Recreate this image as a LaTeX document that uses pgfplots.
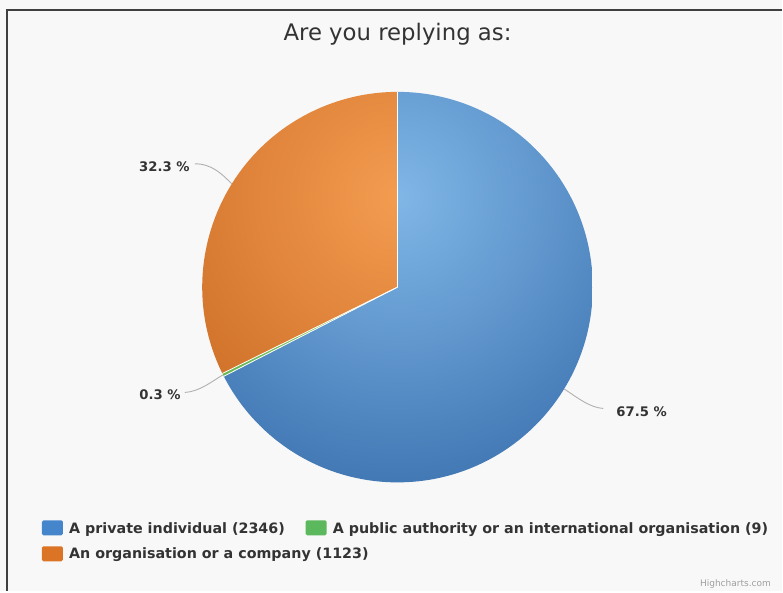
\documentclass[border=0pt]{standalone}
\usepackage{pgfplots}
\pgfplotsset{compat=1.18}
\usepackage{pgfplotstable}
\usepackage{fontspec}
\setmainfont{DejaVu Sans}

\definecolor{bg}{HTML}{F8F8F8}
\definecolor{frame}{HTML}{404040}
\definecolor{txt}{HTML}{333333}
\definecolor{bluein}{HTML}{80B7E7}
\definecolor{blueout}{HTML}{2E64A4}
\definecolor{orangein}{HTML}{F39C50}
\definecolor{orangeout}{HTML}{C05E18}
\definecolor{greenin}{HTML}{9AD67A}
\definecolor{greenout}{HTML}{4AA63C}
\definecolor{legblue}{HTML}{4585CB}
\definecolor{leggreen}{HTML}{5CB85C}
\definecolor{legorange}{HTML}{DC7426}
\definecolor{conn}{HTML}{B0B0B0}

% Data: responses per category
\pgfplotstableread{
id value
1 2346
2 9
3 1123
}\datatable
\pgfplotstablegetelem{0}{value}\of\datatable \let\va\pgfplotsretval
\pgfplotstablegetelem{1}{value}\of\datatable \let\vb\pgfplotsretval
\pgfplotstablegetelem{2}{value}\of\datatable \let\vc\pgfplotsretval
\pgfmathsetmacro\total{\va+\vb+\vc}
\pgfmathsetmacro\fa{\va/\total}
\pgfmathsetmacro\fb{\vb/\total}
\pgfmathsetmacro\aA{90-360*\fa}
\pgfmathsetmacro\aB{\aA-360*\fb}
\def\aC{-270}
\def\R{195.5pt}

\begin{document}
\begin{tikzpicture}
\begin{axis}[hide axis, scale only axis, width=783pt, height=592pt,
  xmin=0, xmax=783, ymin=0, ymax=592, clip=false]
\pgfplotsextra{
  \fill[bg] (axis cs:0,0) rectangle (axis cs:783,592);
  \draw[frame, line width=2pt] (axis cs:7,0) -- (axis cs:7,582) -- (axis cs:783,582);
  % blue slice
  \begin{scope}
    \clip (axis cs:398,304.5) -- ++(90:\R) arc[start angle=90, end angle=\aA, radius=\R] -- cycle;
    \shade[overlay, inner color=bluein, outer color=blueout] (axis cs:398,395) circle (380pt);
  \end{scope}
  % green slice
  \begin{scope}
    \clip (axis cs:398,304.5) -- ++(\aA:\R) arc[start angle=\aA, end angle=\aB, radius=\R] -- cycle;
    \shade[overlay, inner color=greenin, outer color=greenout] (axis cs:398,395) circle (380pt);
  \end{scope}
  % orange slice
  \begin{scope}
    \clip (axis cs:398,304.5) -- ++(\aB:\R) arc[start angle=\aB, end angle=\aC, radius=\R] -- cycle;
    \shade[overlay, inner color=orangein, outer color=orangeout] (axis cs:398,395) circle (380pt);
  \end{scope}
  \draw[white, line width=0.8pt] (axis cs:398,304.5) -- ++(90:\R);
  \draw[white, line width=0.8pt] (axis cs:398,304.5) -- ++(\aA:\R);
  \draw[white, line width=0.8pt] (axis cs:398,304.5) -- ++(\aB:\R);
  % connectors
  \draw[conn, line width=0.9pt] (axis cs:195,428) .. controls (axis cs:212,428) and (axis cs:222,418) .. (axis cs:232,408);
  \draw[conn, line width=0.9pt] (axis cs:185,199) .. controls (axis cs:200,200) and (axis cs:212,210) .. (axis cs:223,216.5);
  \draw[conn, line width=0.9pt] (axis cs:565,202.5) .. controls (axis cs:578,194) and (axis cs:590,184) .. (axis cs:604,183);
  % data labels
  \node[anchor=east, inner sep=0pt, text=txt, font=\fontsize{13.2}{15}\selectfont\bfseries] at (axis cs:190,425) {32.3 \%};
  \node[anchor=east, inner sep=0pt, text=txt, font=\fontsize{13.2}{15}\selectfont\bfseries] at (axis cs:181,197) {0.3 \%};
  \node[anchor=west, inner sep=0pt, text=txt, font=\fontsize{13.2}{15}\selectfont\bfseries] at (axis cs:617,180) {67.5 \%};
  % title
  \node[text=txt, font=\fontsize{22.8}{26}\selectfont] at (axis cs:398,558) {Are you replying as:};
  % legend
  \fill[legblue, rounded corners=1.5pt] (axis cs:42,56) rectangle (axis cs:63,71);
  \fill[leggreen, rounded corners=1.5pt] (axis cs:306,56) rectangle (axis cs:327,71);
  \fill[legorange, rounded corners=1.5pt] (axis cs:42,30) rectangle (axis cs:63,45);
  \node[anchor=west, inner sep=0pt, text=txt, font=\fontsize{14.3}{16}\selectfont\bfseries] at (axis cs:69,62) {A private individual (2346)};
  \node[anchor=west, inner sep=0pt, text=txt, font=\fontsize{14.3}{16}\selectfont\bfseries] at (axis cs:333,62) {A public authority or an international organisation (9)};
  \node[anchor=west, inner sep=0pt, text=txt, font=\fontsize{14.3}{16}\selectfont\bfseries] at (axis cs:69,37) {An organisation or a company (1123)};
  \node[anchor=east, inner sep=0pt, text=gray!75, font=\fontsize{9}{11}\selectfont] at (axis cs:772,7) {Highcharts.com};
}
\end{axis}
\end{tikzpicture}
\end{document}
